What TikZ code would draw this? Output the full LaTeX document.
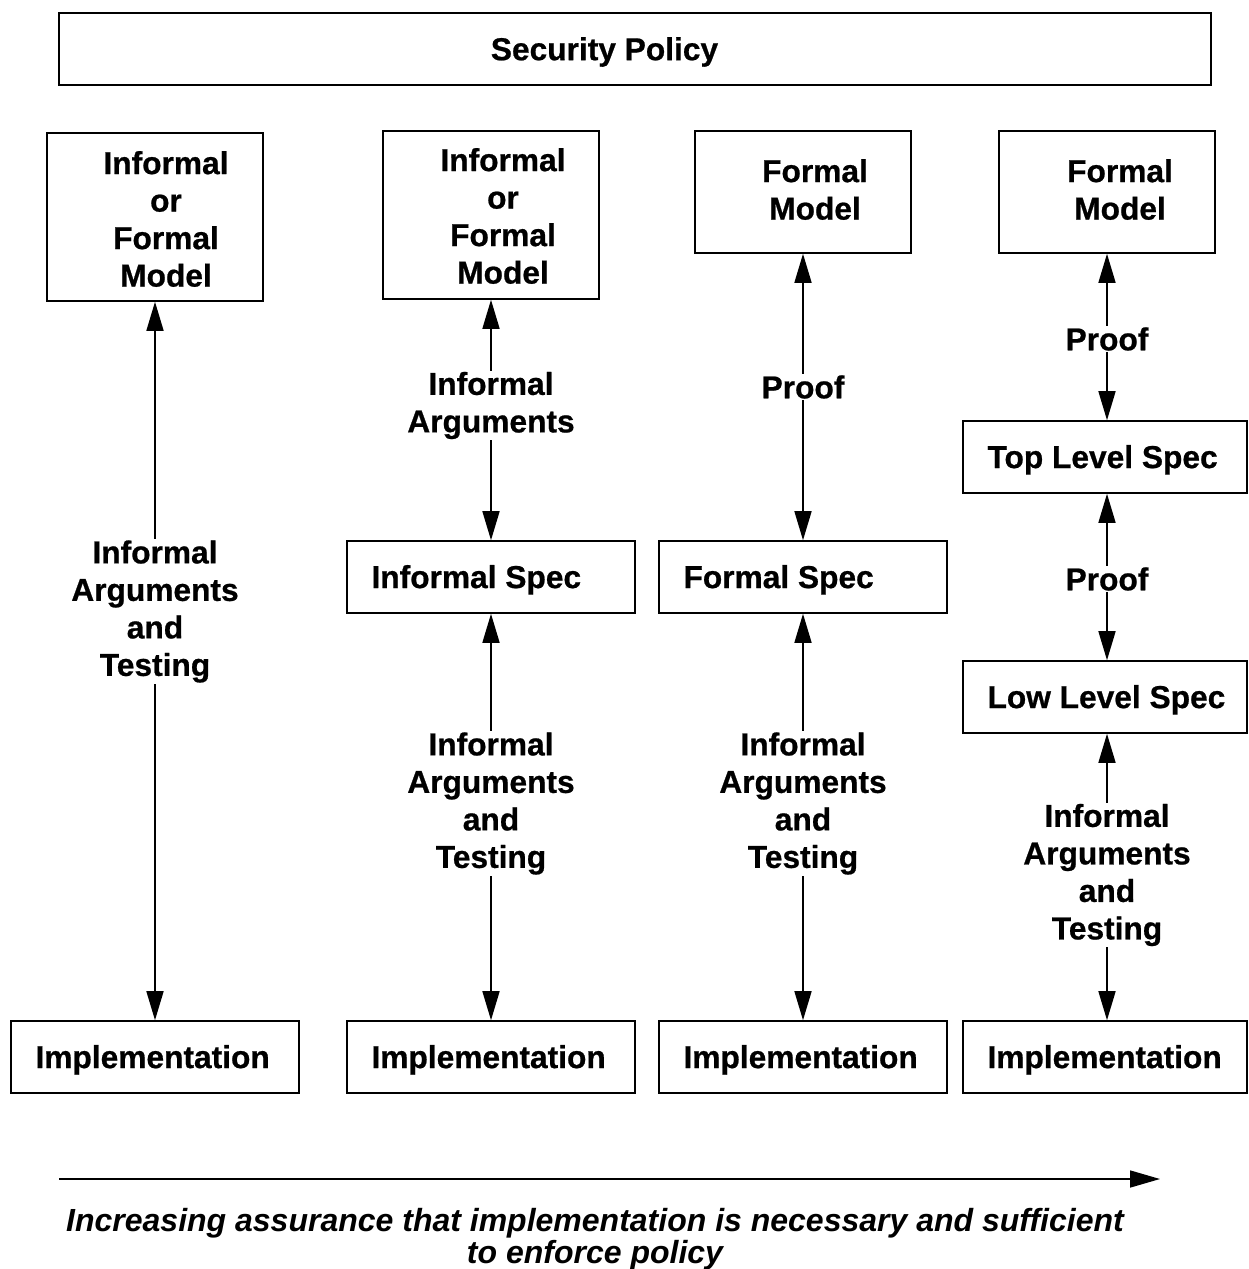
\documentclass[tikz,border=0pt]{standalone}
\usepackage{fontspec}
\setmainfont{Liberation Sans}[BoldFeatures={FakeBold=0.7}]
\usetikzlibrary{arrows.meta}

\newcommand{\lefttext}[2]{\makebox[#1][l]{#2}}

\begin{document}
\begin{tikzpicture}[x=1pt, y=-1pt,
  every node/.style={font=\fontsize{31.7}{37.5}\selectfont\bfseries},
  frame/.style={draw, line width=1.6pt, inner sep=0pt, rectangle},
  tallbox/.style={frame, minimum width=216pt, minimum height=168pt},
  shortbox/.style={frame, minimum width=216pt, minimum height=122pt},
  widebox/.style={frame, minimum width=288pt, minimum height=72pt, inner xsep=24.5pt,
    align=left, text height=28.7pt, text depth=6.6pt},
  narrowbox/.style={widebox, minimum width=284pt},
  words/.style={align=center, inner sep=1pt, yshift=-3pt},
  tag/.style={words, fill=white, inner sep=1pt},
  link/.style={line width=1.6pt, {Triangle[length=29pt,width=17pt]}-{Triangle[length=29pt,width=17pt]}}
]
\useasboundingbox (0,0) rectangle (1248,1269);

% policy banner
\node[frame, minimum width=1152pt, minimum height=72pt] (policybox) at (635,49) {};
\node[words] (policy) at (604.5,49) {Security Policy};

% model boxes
\node[tallbox] (m1) at (155,217) {};
\node[words] (m1t) at (166,216) {Informal\\or\\Formal\\Model};
\node[tallbox] (m2) at (491,215) {};
\node[words] (m2t) at (503,213) {Informal\\or\\Formal\\Model};
\node[shortbox] (m3) at (803,192) {};
\node[words] (m3t) at (815,186.5) {Formal\\Model};
\node[shortbox] (m4) at (1107,192) {};
\node[words] (m4t) at (1120,186.5) {Formal\\Model};

% specification boxes
\node[widebox] (ispec) at (491,577) {\lefttext{239pt}{Informal Spec}};
\node[widebox] (fspec) at (803,577) {\lefttext{239pt}{Formal Spec}};
\node[narrowbox] (tls) at (1105,457) {\lefttext{235pt}{Top Level Spec}};
\node[narrowbox] (lls) at (1105,697) {\lefttext{235pt}{Low Level Spec}};

% implementation boxes
\node[widebox] (impl1) at (155,1057) {\lefttext{239pt}{Implementation}};
\node[widebox] (impl2) at (491,1057) {\lefttext{239pt}{Implementation}};
\node[widebox] (impl3) at (803,1057) {\lefttext{239pt}{Implementation}};
\node[narrowbox] (impl4) at (1105,1057) {\lefttext{235pt}{Implementation}};

% correspondence arrows
\draw[link] (m1.south) -- (impl1.north);
\draw[link] (m2.south) -- (ispec.north);
\draw[link] (ispec.south) -- (impl2.north);
\draw[link] (m3.south) -- (fspec.north);
\draw[link] (fspec.south) -- (impl3.north);
\draw[link] (m4.south) -- (m4.south |- tls.north);
\draw[link] (m4.south |- tls.south) -- (m4.south |- lls.north);
\draw[link] (m4.south |- lls.south) -- (m4.south |- impl4.north);

% arrow labels
\node[tag] (a1) at (155,608.5) {Informal\\Arguments\\and\\Testing};
\node[tag] (a2) at (491,402.5) {Informal\\Arguments};
\node[tag] (a3) at (491,800.5) {Informal\\Arguments\\and\\Testing};
\node[tag] (a4) at (803,384) {Proof};
\node[tag] (a5) at (803,800.5) {Informal\\Arguments\\and\\Testing};
\node[tag] (a6) at (1107,336) {Proof};
\node[tag] (a7) at (1107,576) {Proof};
\node[tag] (a8) at (1107,872) {Informal\\Arguments\\and\\Testing};

% assurance axis
\coordinate (axisstart) at (59,1179);
\coordinate (axisend) at (1160,1179);
\draw[line width=1.6pt, -{Triangle[length=30pt,width=17pt]}] (axisstart) -- (axisend);
\node[words, font=\fontsize{32}{32.5}\selectfont\bfseries\itshape] (caption) at (595,1236)
  {Increasing assurance that implementation is necessary and sufficient\\to enforce policy};
\end{tikzpicture}
\end{document}
